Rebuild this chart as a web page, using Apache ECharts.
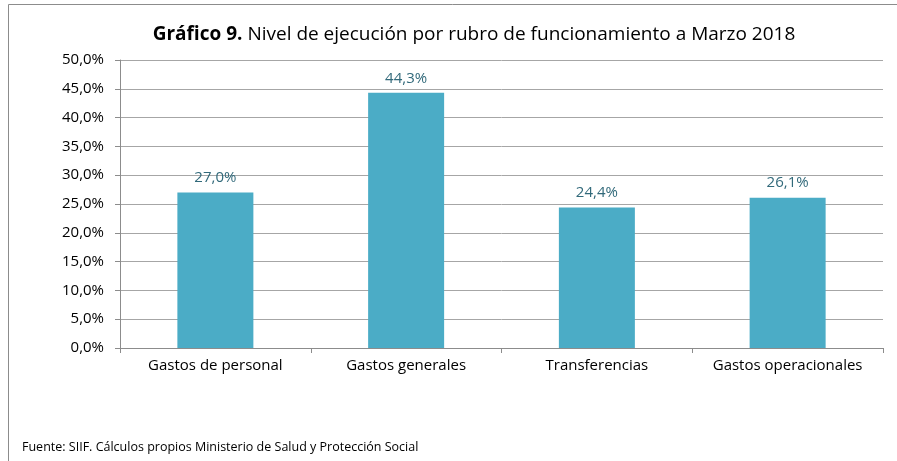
<!DOCTYPE html>
<html>
<head>
<meta charset="utf-8">
<script src="https://cdn.jsdelivr.net/npm/echarts@6/dist/echarts.min.js"></script>
<style>
	html, body { margin: 0; padding: 0; background: #fff; }
	#chart { width: 897px; height: 461px; }
</style>
</head>
<body>
<div id="chart"></div>
<script>
const categories = ["Gastos de personal", "Gastos generales", "Transferencias", "Gastos operacionales"];
const ejecucion = [27.0, 44.3, 24.4, 26.1]; // porcentaje
const yTicks = [0, 5, 10, 15, 20, 25, 30, 35, 40, 45, 50];

const fmt = (v) => v.toFixed(1).replace(".", ",") + "%";
const font = "'Open Sans', 'Noto Sans', sans-serif";

const chart = echarts.init(document.getElementById("chart"));
chart.setOption({
	animation: false,
	textStyle: { fontFamily: font },
	title: {
		text: "{b|Gráfico 9.} Nivel de ejecución por rubro de funcionamiento a Marzo 2018",
		left: 469,
		textAlign: "center",
		top: 20,
		textStyle: {
			fontSize: 19,
			fontWeight: "normal",
			color: "#000",
			rich: {
				b: { fontSize: 19, fontWeight: "bold", color: "#000", fontFamily: font },
			},
		},
	},
	grid: { left: 120, right: 14, top: 60, bottom: 113 },
	xAxis: {
		type: "category",
		data: categories,
		axisLine: { lineStyle: { color: "#8c8c8c" } },
		axisTick: { show: true, interval: 0, length: 5, lineStyle: { color: "#8c8c8c" } },
		axisLabel: { color: "#000", fontSize: 15, margin: 10, interval: 0 },
	},
	yAxis: {
		type: "value",
		min: yTicks[0],
		max: yTicks[yTicks.length - 1],
		interval: 5,
		axisLine: { show: true, lineStyle: { color: "#8c8c8c" } },
		axisTick: { show: true, length: 5, lineStyle: { color: "#8c8c8c" } },
		axisLabel: { color: "#000", fontSize: 15, margin: 16, formatter: fmt },
		splitLine: { lineStyle: { color: "#a6a6a6", width: 1 } },
	},
	series: [
		{
			type: "bar",
			data: ejecucion,
			barWidth: 76,
			itemStyle: { color: "#4bacc6" },
			label: {
				show: true,
				position: "top",
				distance: 7,
				color: "#31697a",
				fontSize: 15,
				formatter: (p) => fmt(p.value),
			},
		},
	],
	graphic: [
		{ type: "line", shape: { x1: 8.5, y1: 4.5, x2: 897, y2: 4.5 }, style: { stroke: "#8c8c8c", lineWidth: 1 } },
		{ type: "line", shape: { x1: 8.5, y1: 4.5, x2: 8.5, y2: 461 }, style: { stroke: "#8c8c8c", lineWidth: 1 } },
		{
			type: "text",
			left: 22,
			top: 441,
			style: {
				text: "Fuente: SIIF. Cálculos propios Ministerio de Salud y Protección Social",
				fontSize: 12.5,
				fill: "#000",
				fontFamily: font,
			},
		},
	],
});
</script>
</body>
</html>
